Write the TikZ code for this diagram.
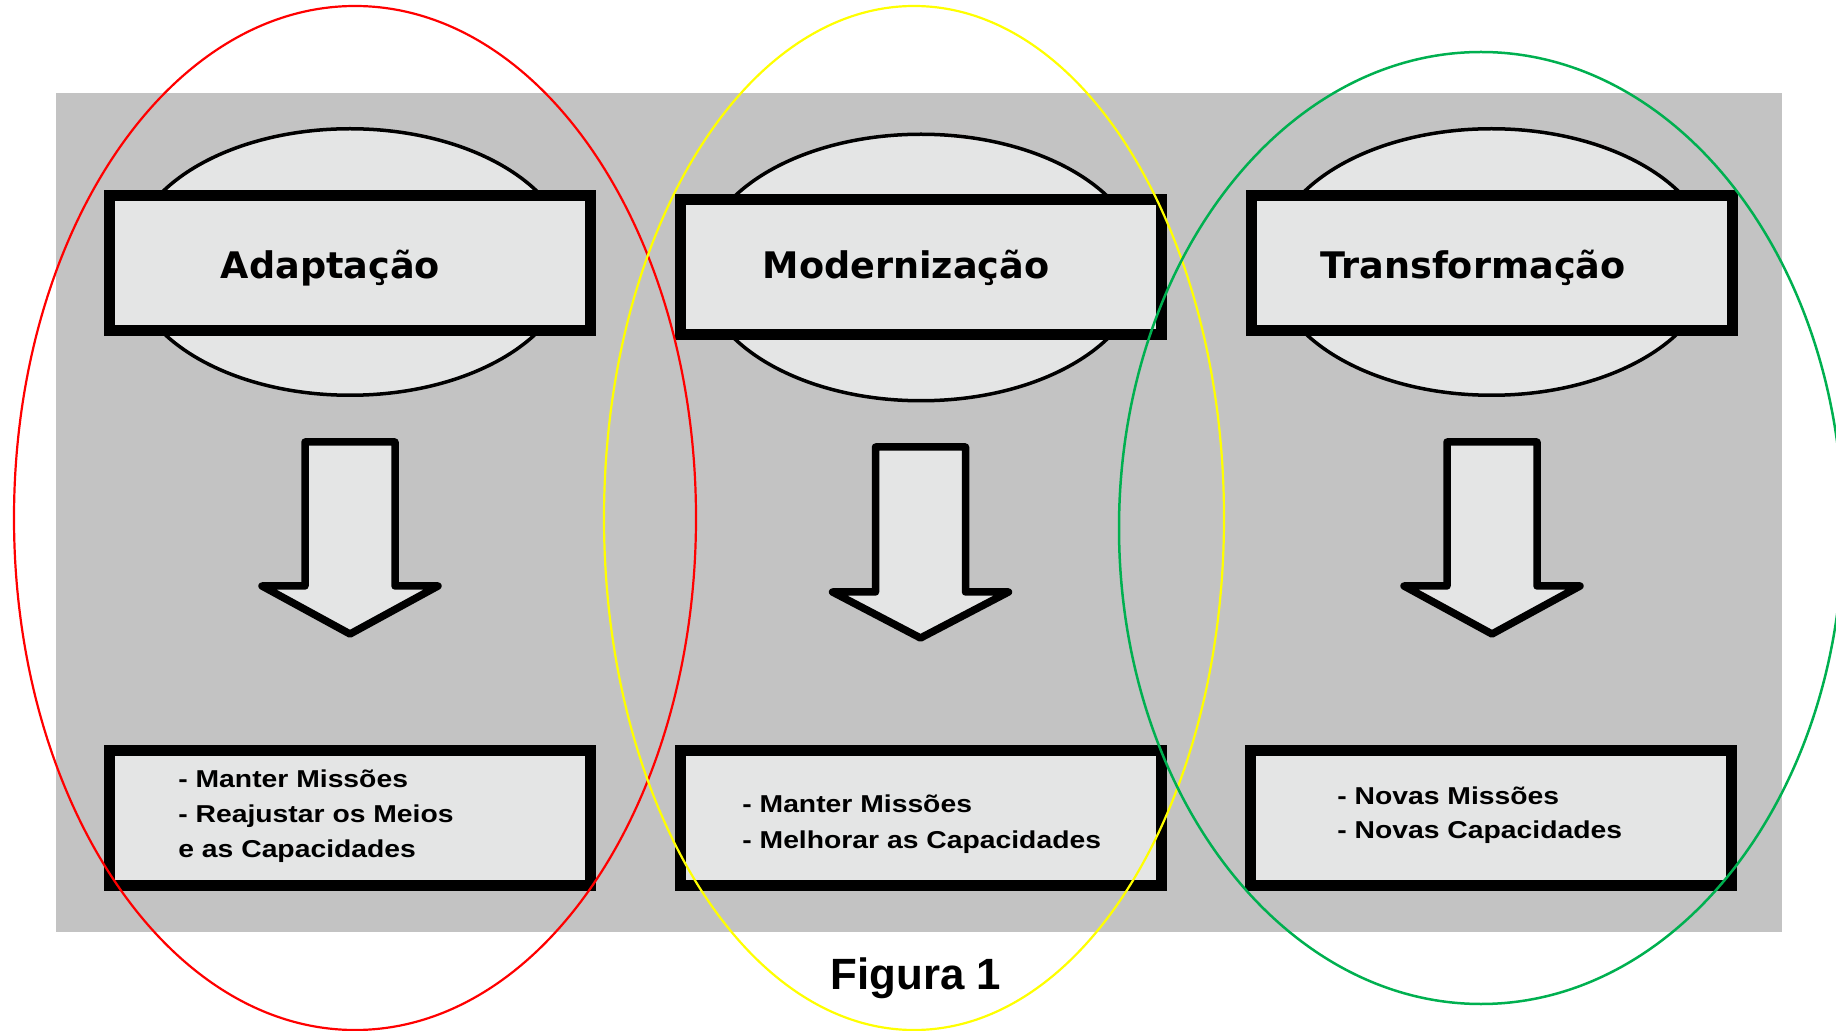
\documentclass[tikz,border=0pt]{standalone}
\usepackage{fontspec}
\usetikzlibrary{shapes.geometric}
\newfontfamily\titlefont{DejaVu Sans}
\newfontfamily\listfont[FakeStretch=1.16]{Liberation Sans}
\newfontfamily\figfont{Liberation Sans}
\definecolor{bggray}{RGB}{195,195,195}
\definecolor{lightfill}{RGB}{228,229,229}
\definecolor{ringred}{RGB}{255,0,0}
\definecolor{ringyellow}{RGB}{255,255,0}
\definecolor{ringgreen}{RGB}{0,176,80}
\tikzset{
  bgpanel/.style={fill=bggray, draw=none},
  capsule/.style={ellipse, draw=black, fill=lightfill, line width=1.75pt, inner sep=0pt, minimum width=220.5pt, minimum height=133.25pt},
  framebox/.style={rectangle, draw=black, fill=lightfill, line width=5.5pt, inner sep=0pt, minimum width=240.5pt, minimum height=67.5pt},
  titletext/.style={anchor=base, inner sep=0pt, font=\titlefont\bfseries\fontsize{18.3}{22}\selectfont},
  listtext/.style={anchor=base west, inner sep=0pt, font=\listfont\bfseries\fontsize{12.2}{15}\selectfont},
  blockarrow/.style={draw=black, fill=lightfill, line width=3.75pt, line join=round},
  ring/.style={ellipse, inner sep=0pt, fill=none}
}
\begin{document}
\begin{tikzpicture}[x=0.5pt, y=-0.5pt]
\useasboundingbox (0,0) rectangle (1836,1031);
\clip (0,0) rectangle (1836,1031);
\fill[white] (0,0) rectangle (1836,1031);
% background panel
\path[bgpanel] (56,93) rectangle (1782,932);

% column 1
\node[capsule] (ell1) at (350,262) {};
\node[framebox] (top1) at (350,263) {};
\node[titletext] (t1) at (330.5,279) {Adaptação};
\draw[blockarrow] (305,442) -- ++(90,0) -- ++(0,144) -- ++(43,0) -- ++(-88,48) -- ++(-88,-48) -- ++(43,0) -- cycle;
\node[framebox] (bot1) at (350,818) {};
\node[listtext] (l1a) at (178,787) {- Manter Missões};
\node[listtext] (l1b) at (178,822) {- Reajustar os Meios};
\node[listtext] (l1c) at (178,857) {e as Capacidades};

% column 2
\node[capsule] (ell2) at (921,267.5) {};
\node[framebox] (top2) at (921,267) {};
\node[titletext] (t2) at (906,279) {Modernização};
\draw[blockarrow] (875.5,447) -- ++(90,0) -- ++(0,145) -- ++(43,0) -- ++(-88,46) -- ++(-88,-46) -- ++(43,0) -- cycle;
\node[framebox] (bot2) at (920.5,818) {};
\node[listtext] (l2a) at (742,812) {- Manter Missões};
\node[listtext] (l2b) at (742,848) {- Melhorar as Capacidades};

% column 3
\node[capsule] (ell3) at (1491.5,262) {};
\node[framebox] (top3) at (1491.5,263) {};
\node[titletext] (t3) at (1473,279) {Transformação};
\draw[blockarrow] (1447,442) -- ++(90,0) -- ++(0,144) -- ++(43,0) -- ++(-88,48) -- ++(-88,-48) -- ++(43,0) -- cycle;
\node[framebox] (bot3) at (1491,818) {};
\node[listtext] (l3a) at (1337,804) {- Novas Missões};
\node[listtext] (l3b) at (1337,838) {- Novas Capacidades};

% caption
\node[anchor=base, inner sep=0pt, font=\figfont\bfseries\fontsize{21.9}{26}\selectfont] (fig) at (916,989) {Figura 1};

% highlight rings
\node[ring, draw=ringred, line width=1.1pt, minimum width=341pt, minimum height=512pt] (redring) at (355,518) {};
\node[ring, draw=ringyellow, line width=1.1pt, minimum width=310pt, minimum height=512pt] (yellowring) at (914,518) {};
\node[ring, draw=ringgreen, line width=1.25pt, minimum width=362pt, minimum height=476pt] (greenring) at (1481,528) {};
\end{tikzpicture}
\end{document}
